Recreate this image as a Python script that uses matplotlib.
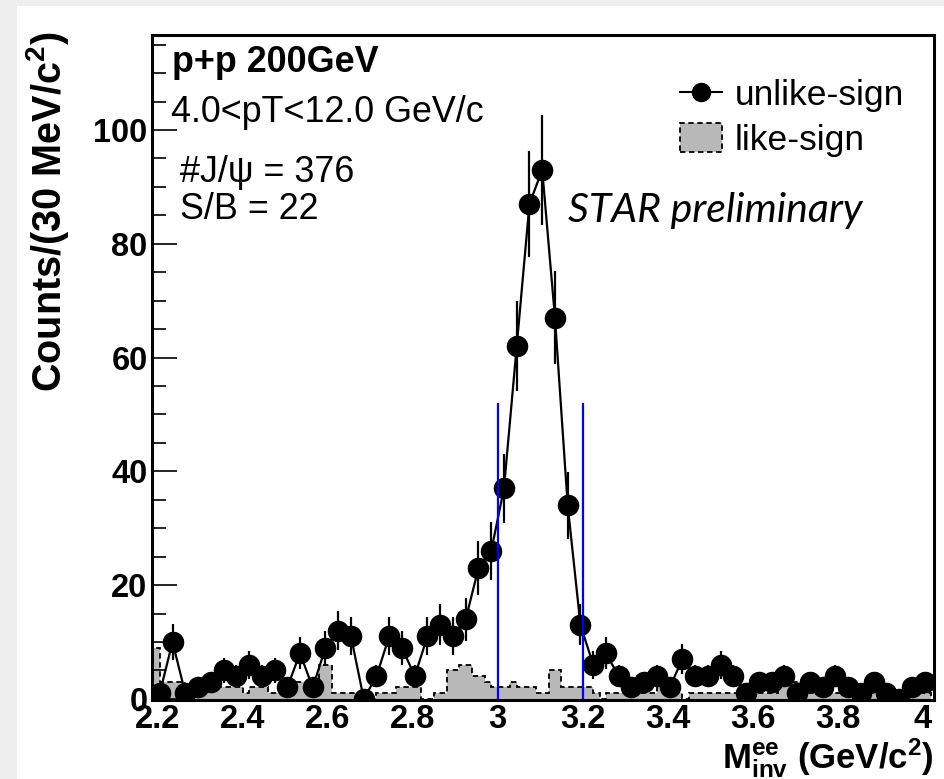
import numpy as np
import matplotlib
matplotlib.use("Agg")
import matplotlib.pyplot as plt
from matplotlib.lines import Line2D
from matplotlib.patches import Patch, Rectangle

# unlike-sign pairs, 30 MeV bins starting at 2.19 GeV/c^2
mass_lo = 2.19
bin_w = 0.03
unlike = [1, 10, 1, 2, 3, 5, 4, 6, 4, 5,
          2, 8, 2, 9, 12, 11, 0, 4, 11, 9,
          4, 11, 13, 11, 14, 23, 26, 37, 62, 87,
          93, 67, 34, 13, 6, 8, 4, 2, 3, 4,
          2, 7, 4, 4, 6, 4, 1, 3, 3, 4,
          1, 3, 2, 4, 2, 1, 3, 1, 0, 2, 3]

# like-sign pairs, 15 MeV bins starting at 2.19 GeV/c^2
like_w = 0.015
like = [9, 3, 3, 3, 3, 2, 2, 2, 2, 2,
        2, 2, 2, 2, 1, 2, 2, 2, 1, 1,
        1, 2, 3, 3, 2, 3, 6, 6, 1, 1,
        1, 1, 0, 0, 0, 1, 1, 1, 2, 2,
        2, 2, 0, 0, 1, 1, 5, 5, 6, 6,
        4, 4, 3, 2, 2, 2, 3, 2, 2, 2,
        1, 1, 5, 5, 2, 2, 2, 2, 2, 1,
        0, 1, 1, 1, 1, 1, 1, 1, 1, 2,
        2, 1, 1, 0, 1, 1, 1, 1, 1, 1,
        1, 1, 2, 2, 1, 1, 1, 1, 3, 3,
        3, 3, 1, 1, 1, 1, 1, 1, 1, 1,
        0, 0, 1, 1, 0, 0, 1, 1, 1, 1, 1, 1]

cut_lo, cut_hi, cut_top = 3.0, 3.2, 52

xticks = [2.2, 2.4, 2.6, 2.8, 3.0, 3.2, 3.4, 3.6, 3.8, 4.0]
xlabels = ["2.2", "2.4", "2.6", "2.8", "3", "3.2", "3.4", "3.6", "3.8", "4"]
yticks = [0, 20, 40, 60, 80, 100]

plt.rcParams["font.family"] = ["Liberation Sans", "DejaVu Sans"]
plt.rcParams["mathtext.fontset"] = "custom"
plt.rcParams["mathtext.rm"] = "Liberation Sans:bold"
plt.rcParams["mathtext.it"] = "Liberation Sans:bold"
plt.rcParams["mathtext.bf"] = "Liberation Sans:bold"

fig = plt.figure(figsize=(9.44, 7.79), dpi=100)
fig.patch.set_facecolor("#eeeeee")
fig.add_artist(Rectangle((17 / 944, 0), 1, 1 - 6 / 779, transform=fig.transFigure,
                         facecolor="white", edgecolor="none", zorder=0))

ax = fig.add_axes([151.7 / 944, 1 - 700 / 779, 782.3 / 944, 665 / 779])

unlike = np.array(unlike, dtype=float)
centers = mass_lo + bin_w * (np.arange(len(unlike)) + 0.5)
like_edges = mass_lo + like_w * np.arange(len(like) + 1)

ax.stairs(like, like_edges, fill=True, color="#b8b8b8", zorder=1)
ax.stairs(like, like_edges, color="black", linestyle=(0, (3, 2)), lw=1.3, zorder=2)

ax.plot(centers, unlike, color="black", lw=1.6, zorder=3)
ax.errorbar(centers, unlike, yerr=np.sqrt(unlike), fmt="o", color="black",
            ms=14.5, elinewidth=1.6, capsize=0, zorder=4)

ax.vlines([cut_lo, cut_hi], 0, cut_top, color="#0000ff", lw=1.6, zorder=5)

ax.set_xlim(2.186, 4.027)
ax.set_ylim(-0.2, 116.7)
ax.set_xticks(xticks)
ax.set_xticklabels(xlabels)
ax.set_yticks(yticks)
ax.set_yticklabels([str(v) for v in yticks])
ax.set_yticks(np.arange(0, 116, 5), minor=True)
ax.tick_params(which="both", direction="in", top=False, right=False, width=1.2)
ax.tick_params(axis="y", which="major", length=18, pad=3, labelsize=23.5)
ax.tick_params(axis="y", which="minor", length=10)
ax.tick_params(axis="x", which="major", length=0, pad=3, labelsize=23.5)
for lab in ax.get_xticklabels() + ax.get_yticklabels():
    lab.set_fontweight("bold")
for sp in ax.spines.values():
    sp.set_linewidth(2.2)

ax.text(-0.1326, 0.734, "Counts/(30 MeV/c$^{2}$)", transform=ax.transAxes,
        rotation=90, ha="center", va="center", fontsize=28.5, fontweight="bold")
ax.text(1.0, -0.102, r"M$^{ee}_{inv}$ (GeV/c$^{2}$)", transform=ax.transAxes,
        ha="right", va="baseline", fontsize=25, fontweight="bold")

ax.text(0.026, 0.945, "p+p 200GeV", transform=ax.transAxes, va="baseline",
        fontsize=25.8, fontweight="bold")
ax.text(0.025, 0.869, "4.0<pT<12.0 GeV/c", transform=ax.transAxes, va="baseline",
        fontsize=25.8)
ax.text(0.036, 0.779, "#J/\u03c8 = 376", transform=ax.transAxes, va="baseline",
        fontsize=25.8)
ax.text(0.036, 0.724, "S/B = 22", transform=ax.transAxes, va="baseline",
        fontsize=25.8)
ax.text(0.532, 0.719, "STAR preliminary", transform=ax.transAxes, va="baseline",
        fontsize=29.5, family="Lato", style="italic")

handles = [Line2D([], [], color="black", marker="o", ms=13, lw=1.5),
           Patch(facecolor="#b8b8b8", edgecolor="black", linestyle=(0, (3, 2)), lw=1.3)]
ax.legend(handles, ["unlike-sign", "like-sign"], loc="upper left",
          bbox_to_anchor=(0.675, 0.935), frameon=False, fontsize=25.5,
          handlelength=1.2, handleheight=0.9, handletextpad=0.35,
          labelspacing=0.3, borderpad=0, borderaxespad=0)

fig.savefig("out.png", dpi=100)
